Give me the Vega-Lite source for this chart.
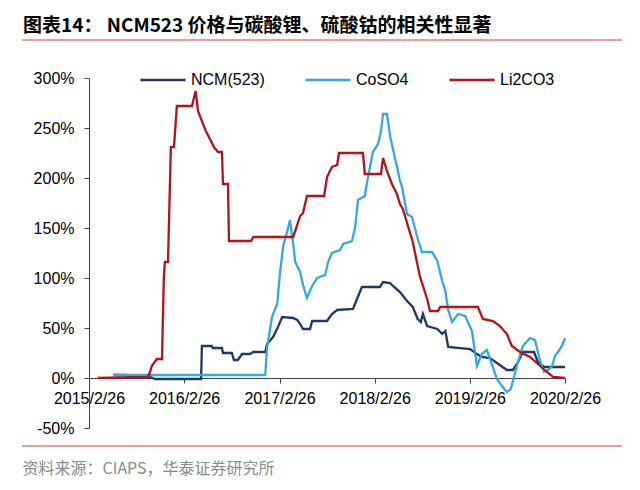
{
  "$schema": "https://vega.github.io/schema/vega-lite/v6.json",
  "description": "NCM523 vs Li2CO3 / CoSO4 price change",
  "autosize": "none",
  "width": 476,
  "height": 350,
  "padding": {"left": 89, "top": 78, "right": 75, "bottom": 62},
  "background": "white",
  "title": {
    "text": "图表14：   NCM523 价格与碳酸锂、硫酸钴的相关性显著",
    "anchor": "start",
    "frame": "group",
    "dx": -66,
    "offset": 3,
    "font": "Noto Sans CJK SC",
    "fontSize": 19,
    "fontWeight": "bold",
    "color": "#000000"
  },
  "config": {
    "view": {"stroke": null},
    "font": "Liberation Sans"
  },
  "layer": [
    {
      "data": {
        "values": [
          {"d": "2015-05-29", "s": "NCM(523)", "v": 3},
          {"d": "2015-07-18", "s": "NCM(523)", "v": 3},
          {"d": "2015-08-02", "s": "NCM(523)", "v": 1},
          {"d": "2015-10-18", "s": "NCM(523)", "v": 1},
          {"d": "2015-11-06", "s": "NCM(523)", "v": -1},
          {"d": "2016-05-01", "s": "NCM(523)", "v": -1},
          {"d": "2016-05-04", "s": "NCM(523)", "v": 32},
          {"d": "2016-06-11", "s": "NCM(523)", "v": 32},
          {"d": "2016-06-15", "s": "NCM(523)", "v": 30},
          {"d": "2016-07-20", "s": "NCM(523)", "v": 30},
          {"d": "2016-07-24", "s": "NCM(523)", "v": 25},
          {"d": "2016-08-27", "s": "NCM(523)", "v": 25},
          {"d": "2016-09-04", "s": "NCM(523)", "v": 18},
          {"d": "2016-09-19", "s": "NCM(523)", "v": 18},
          {"d": "2016-10-05", "s": "NCM(523)", "v": 24},
          {"d": "2016-11-04", "s": "NCM(523)", "v": 24},
          {"d": "2016-11-17", "s": "NCM(523)", "v": 26},
          {"d": "2017-01-02", "s": "NCM(523)", "v": 26},
          {"d": "2017-01-09", "s": "NCM(523)", "v": 34},
          {"d": "2017-02-01", "s": "NCM(523)", "v": 41},
          {"d": "2017-02-20", "s": "NCM(523)", "v": 51},
          {"d": "2017-03-08", "s": "NCM(523)", "v": 61},
          {"d": "2017-04-19", "s": "NCM(523)", "v": 60},
          {"d": "2017-05-05", "s": "NCM(523)", "v": 58},
          {"d": "2017-05-16", "s": "NCM(523)", "v": 54},
          {"d": "2017-05-27", "s": "NCM(523)", "v": 49},
          {"d": "2017-06-23", "s": "NCM(523)", "v": 49},
          {"d": "2017-07-01", "s": "NCM(523)", "v": 57},
          {"d": "2017-08-27", "s": "NCM(523)", "v": 57},
          {"d": "2017-09-15", "s": "NCM(523)", "v": 64},
          {"d": "2017-10-05", "s": "NCM(523)", "v": 68},
          {"d": "2017-12-05", "s": "NCM(523)", "v": 69},
          {"d": "2017-12-20", "s": "NCM(523)", "v": 79},
          {"d": "2018-01-08", "s": "NCM(523)", "v": 91},
          {"d": "2018-03-18", "s": "NCM(523)", "v": 91},
          {"d": "2018-03-30", "s": "NCM(523)", "v": 96},
          {"d": "2018-04-26", "s": "NCM(523)", "v": 95},
          {"d": "2018-05-07", "s": "NCM(523)", "v": 92},
          {"d": "2018-06-03", "s": "NCM(523)", "v": 86},
          {"d": "2018-06-30", "s": "NCM(523)", "v": 77},
          {"d": "2018-07-22", "s": "NCM(523)", "v": 71},
          {"d": "2018-08-10", "s": "NCM(523)", "v": 59},
          {"d": "2018-08-22", "s": "NCM(523)", "v": 56},
          {"d": "2018-08-30", "s": "NCM(523)", "v": 64},
          {"d": "2018-09-15", "s": "NCM(523)", "v": 52},
          {"d": "2018-10-24", "s": "NCM(523)", "v": 49},
          {"d": "2018-11-12", "s": "NCM(523)", "v": 44},
          {"d": "2018-11-24", "s": "NCM(523)", "v": 47},
          {"d": "2018-12-05", "s": "NCM(523)", "v": 31},
          {"d": "2019-02-27", "s": "NCM(523)", "v": 29},
          {"d": "2019-03-25", "s": "NCM(523)", "v": 24},
          {"d": "2019-04-13", "s": "NCM(523)", "v": 21},
          {"d": "2019-05-14", "s": "NCM(523)", "v": 20},
          {"d": "2019-06-10", "s": "NCM(523)", "v": 15},
          {"d": "2019-07-18", "s": "NCM(523)", "v": 8},
          {"d": "2019-08-10", "s": "NCM(523)", "v": 8},
          {"d": "2019-08-30", "s": "NCM(523)", "v": 16},
          {"d": "2019-09-17", "s": "NCM(523)", "v": 26},
          {"d": "2019-10-30", "s": "NCM(523)", "v": 26},
          {"d": "2019-11-14", "s": "NCM(523)", "v": 16},
          {"d": "2019-12-08", "s": "NCM(523)", "v": 11},
          {"d": "2020-02-26", "s": "NCM(523)", "v": 11},

          {"d": "2015-05-29", "s": "CoSO4", "v": 3},
          {"d": "2017-01-02", "s": "CoSO4", "v": 3},
          {"d": "2017-01-09", "s": "CoSO4", "v": 30},
          {"d": "2017-01-28", "s": "CoSO4", "v": 61},
          {"d": "2017-02-17", "s": "CoSO4", "v": 74},
          {"d": "2017-02-28", "s": "CoSO4", "v": 106},
          {"d": "2017-03-12", "s": "CoSO4", "v": 132},
          {"d": "2017-03-27", "s": "CoSO4", "v": 146},
          {"d": "2017-04-07", "s": "CoSO4", "v": 158},
          {"d": "2017-04-19", "s": "CoSO4", "v": 135},
          {"d": "2017-04-27", "s": "CoSO4", "v": 116},
          {"d": "2017-05-16", "s": "CoSO4", "v": 106},
          {"d": "2017-05-27", "s": "CoSO4", "v": 93},
          {"d": "2017-06-11", "s": "CoSO4", "v": 80},
          {"d": "2017-07-01", "s": "CoSO4", "v": 92},
          {"d": "2017-07-20", "s": "CoSO4", "v": 100},
          {"d": "2017-08-20", "s": "CoSO4", "v": 103},
          {"d": "2017-08-31", "s": "CoSO4", "v": 116},
          {"d": "2017-09-15", "s": "CoSO4", "v": 125},
          {"d": "2017-10-16", "s": "CoSO4", "v": 128},
          {"d": "2017-10-28", "s": "CoSO4", "v": 134},
          {"d": "2017-12-01", "s": "CoSO4", "v": 137},
          {"d": "2017-12-13", "s": "CoSO4", "v": 151},
          {"d": "2017-12-24", "s": "CoSO4", "v": 178},
          {"d": "2018-01-19", "s": "CoSO4", "v": 182},
          {"d": "2018-01-30", "s": "CoSO4", "v": 199},
          {"d": "2018-02-19", "s": "CoSO4", "v": 226},
          {"d": "2018-03-11", "s": "CoSO4", "v": 234},
          {"d": "2018-03-22", "s": "CoSO4", "v": 247},
          {"d": "2018-03-30", "s": "CoSO4", "v": 264},
          {"d": "2018-04-14", "s": "CoSO4", "v": 264},
          {"d": "2018-04-26", "s": "CoSO4", "v": 242},
          {"d": "2018-05-07", "s": "CoSO4", "v": 229},
          {"d": "2018-05-22", "s": "CoSO4", "v": 212},
          {"d": "2018-06-03", "s": "CoSO4", "v": 197},
          {"d": "2018-06-10", "s": "CoSO4", "v": 192},
          {"d": "2018-06-30", "s": "CoSO4", "v": 164},
          {"d": "2018-07-19", "s": "CoSO4", "v": 161},
          {"d": "2018-08-07", "s": "CoSO4", "v": 142},
          {"d": "2018-08-26", "s": "CoSO4", "v": 126},
          {"d": "2018-10-04", "s": "CoSO4", "v": 126},
          {"d": "2018-10-24", "s": "CoSO4", "v": 117},
          {"d": "2018-11-12", "s": "CoSO4", "v": 97},
          {"d": "2018-11-24", "s": "CoSO4", "v": 87},
          {"d": "2018-12-05", "s": "CoSO4", "v": 68},
          {"d": "2018-12-20", "s": "CoSO4", "v": 56},
          {"d": "2019-01-12", "s": "CoSO4", "v": 64},
          {"d": "2019-02-08", "s": "CoSO4", "v": 62},
          {"d": "2019-03-06", "s": "CoSO4", "v": 47},
          {"d": "2019-03-25", "s": "CoSO4", "v": 12},
          {"d": "2019-04-13", "s": "CoSO4", "v": 24},
          {"d": "2019-05-02", "s": "CoSO4", "v": 28},
          {"d": "2019-05-21", "s": "CoSO4", "v": 14},
          {"d": "2019-06-10", "s": "CoSO4", "v": -1},
          {"d": "2019-06-29", "s": "CoSO4", "v": -8},
          {"d": "2019-07-18", "s": "CoSO4", "v": -14},
          {"d": "2019-08-02", "s": "CoSO4", "v": -11},
          {"d": "2019-08-25", "s": "CoSO4", "v": 12},
          {"d": "2019-09-17", "s": "CoSO4", "v": 32},
          {"d": "2019-10-15", "s": "CoSO4", "v": 40},
          {"d": "2019-11-03", "s": "CoSO4", "v": 38},
          {"d": "2019-11-22", "s": "CoSO4", "v": 17},
          {"d": "2019-12-08", "s": "CoSO4", "v": 6},
          {"d": "2019-12-23", "s": "CoSO4", "v": 8},
          {"d": "2020-01-07", "s": "CoSO4", "v": 12},
          {"d": "2020-01-19", "s": "CoSO4", "v": 22},
          {"d": "2020-01-30", "s": "CoSO4", "v": 26},
          {"d": "2020-02-14", "s": "CoSO4", "v": 32},
          {"d": "2020-02-26", "s": "CoSO4", "v": 40},

          {"d": "2015-04-01", "s": "Li2CO3", "v": 0},
          {"d": "2015-10-10", "s": "Li2CO3", "v": 1},
          {"d": "2015-10-18", "s": "Li2CO3", "v": 6},
          {"d": "2015-10-25", "s": "Li2CO3", "v": 12},
          {"d": "2015-11-13", "s": "Li2CO3", "v": 19},
          {"d": "2015-12-03", "s": "Li2CO3", "v": 19},
          {"d": "2015-12-10", "s": "Li2CO3", "v": 100},
          {"d": "2015-12-14", "s": "Li2CO3", "v": 116},
          {"d": "2015-12-26", "s": "Li2CO3", "v": 116},
          {"d": "2016-01-06", "s": "Li2CO3", "v": 231},
          {"d": "2016-01-18", "s": "Li2CO3", "v": 231},
          {"d": "2016-01-29", "s": "Li2CO3", "v": 272},
          {"d": "2016-03-27", "s": "Li2CO3", "v": 272},
          {"d": "2016-04-10", "s": "Li2CO3", "v": 287},
          {"d": "2016-04-19", "s": "Li2CO3", "v": 267},
          {"d": "2016-05-04", "s": "Li2CO3", "v": 257},
          {"d": "2016-05-19", "s": "Li2CO3", "v": 247},
          {"d": "2016-06-04", "s": "Li2CO3", "v": 239},
          {"d": "2016-06-19", "s": "Li2CO3", "v": 231},
          {"d": "2016-07-05", "s": "Li2CO3", "v": 226},
          {"d": "2016-07-20", "s": "Li2CO3", "v": 226},
          {"d": "2016-07-24", "s": "Li2CO3", "v": 194},
          {"d": "2016-08-12", "s": "Li2CO3", "v": 194},
          {"d": "2016-08-16", "s": "Li2CO3", "v": 137},
          {"d": "2016-11-09", "s": "Li2CO3", "v": 137},
          {"d": "2016-11-17", "s": "Li2CO3", "v": 141},
          {"d": "2017-04-19", "s": "Li2CO3", "v": 141},
          {"d": "2017-04-27", "s": "Li2CO3", "v": 147},
          {"d": "2017-05-16", "s": "Li2CO3", "v": 162},
          {"d": "2017-05-27", "s": "Li2CO3", "v": 165},
          {"d": "2017-06-11", "s": "Li2CO3", "v": 182},
          {"d": "2017-08-16", "s": "Li2CO3", "v": 182},
          {"d": "2017-08-27", "s": "Li2CO3", "v": 201},
          {"d": "2017-09-15", "s": "Li2CO3", "v": 211},
          {"d": "2017-10-05", "s": "Li2CO3", "v": 213},
          {"d": "2017-10-12", "s": "Li2CO3", "v": 225},
          {"d": "2018-01-12", "s": "Li2CO3", "v": 225},
          {"d": "2018-01-19", "s": "Li2CO3", "v": 204},
          {"d": "2018-03-22", "s": "Li2CO3", "v": 204},
          {"d": "2018-03-30", "s": "Li2CO3", "v": 220},
          {"d": "2018-04-14", "s": "Li2CO3", "v": 207},
          {"d": "2018-05-03", "s": "Li2CO3", "v": 194},
          {"d": "2018-05-22", "s": "Li2CO3", "v": 184},
          {"d": "2018-06-03", "s": "Li2CO3", "v": 174},
          {"d": "2018-06-14", "s": "Li2CO3", "v": 169},
          {"d": "2018-07-22", "s": "Li2CO3", "v": 136},
          {"d": "2018-08-18", "s": "Li2CO3", "v": 102},
          {"d": "2018-09-15", "s": "Li2CO3", "v": 79},
          {"d": "2018-09-26", "s": "Li2CO3", "v": 67},
          {"d": "2018-10-27", "s": "Li2CO3", "v": 67},
          {"d": "2018-11-04", "s": "Li2CO3", "v": 71},
          {"d": "2019-03-29", "s": "Li2CO3", "v": 71},
          {"d": "2019-04-17", "s": "Li2CO3", "v": 59},
          {"d": "2019-05-26", "s": "Li2CO3", "v": 57},
          {"d": "2019-06-21", "s": "Li2CO3", "v": 52},
          {"d": "2019-07-18", "s": "Li2CO3", "v": 44},
          {"d": "2019-08-06", "s": "Li2CO3", "v": 32},
          {"d": "2019-09-06", "s": "Li2CO3", "v": 26},
          {"d": "2019-10-15", "s": "Li2CO3", "v": 21},
          {"d": "2019-11-14", "s": "Li2CO3", "v": 14},
          {"d": "2019-12-19", "s": "Li2CO3", "v": 6},
          {"d": "2020-01-11", "s": "Li2CO3", "v": 1},
          {"d": "2020-02-26", "s": "Li2CO3", "v": 0}
        ]
      },
      "mark": {"type": "line", "strokeWidth": 2.3, "clip": false},
      "encoding": {
        "x": {
          "field": "d",
          "type": "temporal",
          "scale": {
            "type": "utc",
            "nice": false,
            "domain": [
              {"year": 2015, "month": 2, "date": 26, "utc": true},
              {"year": 2020, "month": 2, "date": 26, "utc": true}
            ]
          },
          "axis": {
            "values": [
              {"year": 2015, "month": 2, "date": 26, "utc": true},
              {"year": 2016, "month": 2, "date": 26, "utc": true},
              {"year": 2017, "month": 2, "date": 26, "utc": true},
              {"year": 2018, "month": 2, "date": 26, "utc": true},
              {"year": 2019, "month": 2, "date": 26, "utc": true},
              {"year": 2020, "month": 2, "date": 26, "utc": true}
            ],
            "format": "%Y/%-m/%-d",
            "offset": -50,
            "grid": false,
            "domainColor": "#404040",
            "tickColor": "#404040",
            "tickSize": 5,
            "labelPadding": 7,
            "labelFontSize": 16,
            "labelColor": "#000000",
            "labelFlush": false,
            "labelOverlap": false,
            "title": "资料来源：CIAPS，华泰证券研究所",
            "titleFont": "Noto Sans CJK SC",
            "titleFontSize": 16,
            "titleFontWeight": "normal",
            "titleColor": "#8a8a8a",
            "titleAnchor": "start",
            "titleAlign": "left",
            "titleBaseline": "middle",
            "titleX": -67,
            "titleY": 90
          }
        },
        "y": {
          "field": "v",
          "type": "quantitative",
          "scale": {"domain": [-50, 300], "nice": false, "zero": false},
          "axis": {
            "values": [-50, 0, 50, 100, 150, 200, 250, 300],
            "labelExpr": "datum.value + '%'",
            "grid": false,
            "title": null,
            "domainColor": "#404040",
            "tickColor": "#404040",
            "tickSize": 5,
            "labelPadding": 10,
            "labelFontSize": 16,
            "labelColor": "#000000"
          }
        },
        "color": {
          "field": "s",
          "type": "nominal",
          "scale": {
            "domain": ["NCM(523)", "CoSO4", "Li2CO3"],
            "range": ["#1F3864", "#36A8E0", "#B5121B"]
          },
          "legend": {
            "title": null,
            "orient": "none",
            "direction": "horizontal",
            "legendX": 50,
            "legendY": -22,
            "symbolType": "stroke",
            "symbolSize": 2025,
            "symbolStrokeWidth": 2.5,
            "labelFontSize": 16,
            "labelColor": "#000000",
            "labelOffset": 4,
            "columnPadding": 35
          }
        }
      }
    },
    {
      "data": {"values": [{}]},
      "mark": {"type": "rule", "color": "#D0403F", "strokeWidth": 1.2, "clip": false},
      "encoding": {
        "x": {"datum": {"year": 2014, "month": 6, "date": 14, "utc": true}, "type": "temporal"},
        "x2": {"datum": {"year": 2020, "month": 10, "date": 1, "utc": true}},
        "y": {"datum": 338, "type": "quantitative"}
      }
    },
    {
      "data": {"values": [{}]},
      "mark": {"type": "rule", "color": "#D0403F", "strokeWidth": 1.2, "clip": false},
      "encoding": {
        "x": {"datum": {"year": 2014, "month": 6, "date": 14, "utc": true}, "type": "temporal"},
        "x2": {"datum": {"year": 2020, "month": 10, "date": 1, "utc": true}},
        "y": {"datum": -68, "type": "quantitative"}
      }
    }
  ]
}
